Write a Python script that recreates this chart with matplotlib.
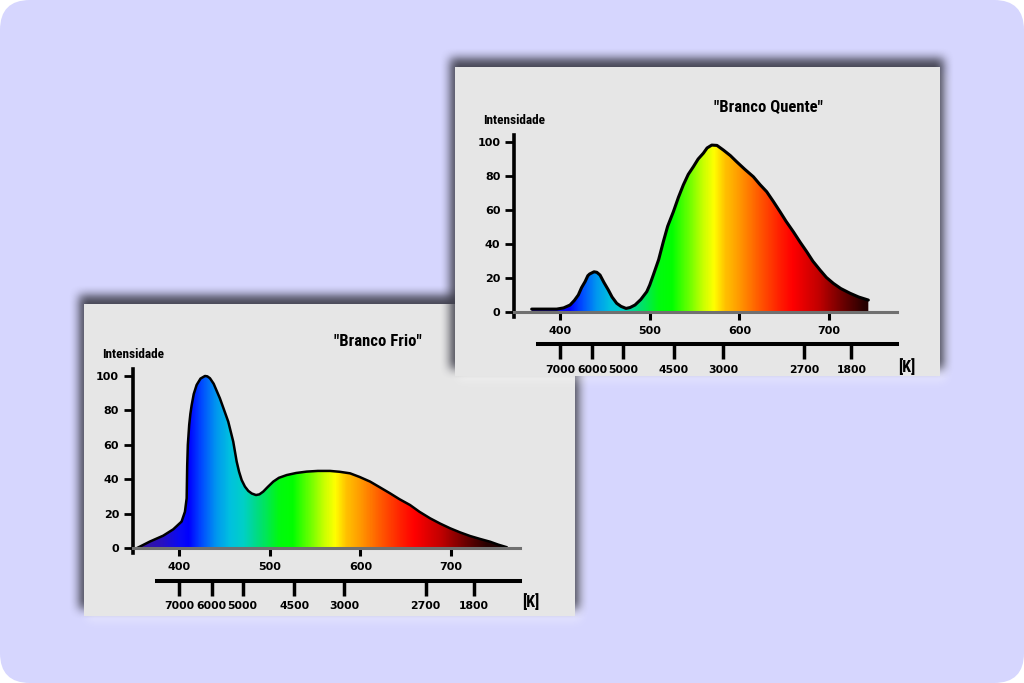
import numpy as np
import matplotlib
matplotlib.use("Agg")
import matplotlib.pyplot as plt
from matplotlib.colors import LinearSegmentedColormap, Normalize
from matplotlib.patches import FancyBboxPatch, Rectangle

W, H = 1024, 683

# spectrum (wavelength nm, relative intensity)
frio_wl = [353, 367.6, 382.3, 393.4, 402.6, 406.3, 408.2, 408.8, 409.5, 411, 412.3, 413.7,
           416, 419.2, 423.5, 428.4, 431, 433.9, 438, 444.9, 449, 454.1, 459.6, 463.4,
           466, 468.9, 472.5, 476.2, 480, 484.7, 488.5, 492.7, 497.5, 503.8, 510, 518.6,
           529, 540.7, 553, 566.4, 577, 588.5, 599, 610.6, 621, 632.6, 643, 654.7,
           665, 676.8, 688, 698.9, 710, 721, 732, 743, 752, 761.5]
frio_int = [0, 3.9, 7.3, 11, 15.5, 21.2, 29, 48, 60, 71.6, 78, 83,
            89.5, 94.8, 98.5, 100, 99.8, 98.7, 95.5, 87, 81, 73.5, 61.9, 50.3,
            44.5, 39.6, 35.8, 33.3, 31.8, 30.9, 31.3, 32.9, 35.5, 38.7, 40.9, 42.5,
            43.7, 44.5, 44.9, 44.9, 44.4, 43.5, 41.4, 38.7, 35.5, 31.9, 28.5, 25.1,
            21.2, 17.4, 14.3, 11.6, 9.2, 7.1, 5.4, 3.8, 2.1, 0.6]

quente_wl = [368.4, 396.3, 404, 411.2, 416, 420.4, 424, 427.9, 431, 433, 437.9, 441,
             444.6, 449, 453.9, 458, 463.2, 468, 473.6, 478, 483.6, 490, 496.7, 500,
             504, 510, 515.2, 520, 526.4, 532, 537.5, 543, 548.7, 554, 559.8, 564,
             569.2, 575, 582.1, 590, 597, 606, 615.6, 623, 630.5, 638, 645.3, 652,
             660.2, 668, 675.1, 682, 690, 697, 704.8, 713, 723.4, 733, 743.8]
quente_int = [1.9, 1.9, 2.6, 4.3, 7, 10.2, 14.5, 18, 21.5, 22.5, 23.8, 23.5,
              21.9, 17.5, 13.1, 9, 5.3, 3.5, 2.3, 2.8, 4.3, 7.5, 12.1, 16,
              21.9, 31, 41.5, 50.5, 59.1, 67.5, 74.8, 81, 85.5, 90, 93.4, 96.5,
              98.2, 98.0, 95.3, 92, 88.4, 84, 79.6, 75, 70.8, 65, 59.1, 53.5,
              47.3, 41, 35.6, 30, 24.8, 20.5, 17, 14, 11.2, 9, 7.2]

x_ticks = [400, 500, 600, 700]
y_ticks = [0, 20, 40, 60, 80, 100]
k_pos = [400, 436, 470, 527, 582, 672, 725]
k_labels = ["7000", "6000", "5000", "4500", "3000", "2700", "1800"]

# colour of the light along the wavelength axis
spec_stops = [(350, "#3a1890"), (380, "#2810c0"), (400, "#0a0af5"), (410, "#0000ff"),
              (425, "#0050ff"), (440, "#0095f0"), (455, "#00c0e0"), (470, "#00cfc8"),
              (490, "#00e070"), (510, "#00fa10"), (525, "#00ff00"), (545, "#70ff00"),
              (560, "#c8ff00"), (572, "#ffff00"), (585, "#ffc000"), (600, "#ff9a00"),
              (620, "#ff6000"), (645, "#ff2000"), (660, "#ff0000"), (690, "#c00000"),
              (715, "#700000"), (740, "#280000"), (770, "#100000")]
lo, hi = spec_stops[0][0], spec_stops[-1][0]
spec = LinearSegmentedColormap.from_list(
    "spec", [((w - lo) / (hi - lo), c) for w, c in spec_stops])

narrow = ["Roboto Condensed", "Liberation Sans Narrow", "DejaVu Sans"]

fig = plt.figure(figsize=(W / 100, H / 100), dpi=100)
fig.patch.set_facecolor("white")


def layer():
    lay = fig.add_axes([0, 0, 1, 1])
    lay.axis("off")
    return lay


def box(a, r, axis):
    pad = [(0, 0), (0, 0)]
    pad[axis] = (r + 1, r)
    c = np.cumsum(np.pad(a, pad), axis=axis)
    n = a.shape[axis]
    return (np.take(c, np.arange(2 * r + 1, n + 2 * r + 1), axis=axis)
            - np.take(c, np.arange(0, n), axis=axis)) / (2 * r + 1)


def soft_rect(x0, y0, x1, y1, r):
    m = np.zeros((H, W))
    m[int(y0):int(y1), int(x0):int(x1)] = 1
    for _ in range(2):
        m = box(box(m, r, 0), r, 1)
    return m


def panel(lay, x0, y0, x1, y1):
    glow = np.ones((H, W, 4))
    glow[..., 3] = soft_rect(x0 + 4, y0 + 8, x1 + 6, y1 + 6, 5) * 0.35
    lay.imshow(glow, extent=[0, W, H, 0], aspect="auto", interpolation="bilinear", zorder=2)
    dark = np.zeros((H, W, 4))
    dark[..., :3] = (0.22, 0.22, 0.27)
    dark[..., 3] = soft_rect(x0 - 4, y0 - 8, x1 + 4, y1 - 6, 5) * 0.9
    lay.imshow(dark, extent=[0, W, H, 0], aspect="auto", interpolation="bilinear", zorder=3)
    lay.add_patch(Rectangle((x0, y0), x1 - x0, y1 - y0, fc="#e6e6e6", ec="none", zorder=4))
    lay.set_xlim(0, W)
    lay.set_ylim(H, 0)


def ftext(ax, x, y, s, **kw):
    ax.text(x / W, 1 - y / H, s, transform=fig.transFigure, **kw)


def chart(px, wl, inten, lw):
    x0, y0, x1, y1 = px
    ax = fig.add_axes([x0 / W, 1 - y1 / H, (x1 - x0) / W, (y1 - y0) / H])
    ax.patch.set_alpha(0)
    poly = ax.fill_between(wl, inten, 0, color="none", lw=0)
    grad = np.linspace(349, 776, 800)[None, :]
    im = ax.imshow(grad, extent=[349, 776, 0, 104], aspect="auto", origin="lower",
                   cmap=spec, norm=Normalize(lo, hi), zorder=1)
    im.set_clip_path(poly.get_paths()[0], transform=ax.transData)
    ax.plot(wl, inten, color="black", lw=lw, zorder=2,
            solid_capstyle="round", solid_joinstyle="round")
    ax.set_xlim(349, 776)
    ax.set_ylim(-2.8, 104)

    for s in ["top", "right"]:
        ax.spines[s].set_visible(False)
    ax.spines["left"].set_linewidth(2.6)
    ax.spines["left"].set_color("black")
    ax.spines["bottom"].set_position(("data", 0))
    ax.spines["bottom"].set_linewidth(2.2)
    ax.spines["bottom"].set_color("#707070")
    ax.spines["bottom"].set_zorder(3)

    ax.set_yticks(y_ticks, labels=[str(v) for v in y_ticks], fontweight="bold")
    ax.set_xticks(x_ticks, labels=[str(v) for v in x_ticks], fontweight="bold")
    ax.tick_params(axis="y", direction="out", length=6.5, width=2, pad=3.5,
                   labelsize=8, colors="black")
    ax.tick_params(axis="x", direction="out", length=5.5, width=2.2, pad=4.5,
                   labelsize=8, colors="black")

    sec = ax.secondary_xaxis(-0.15)
    sec.set_xticks(k_pos, labels=k_labels, fontweight="bold")
    sec.spines["bottom"].set_linewidth(2.9)
    sec.spines["bottom"].set_bounds(375.6, 776)
    sec.tick_params(direction="out", length=10.5, width=2.5, pad=4,
                    labelsize=7.8, colors="black")
    return ax


bg = layer()
bg.add_patch(FancyBboxPatch((0, 0), W, H, boxstyle="round,pad=0,rounding_size=30",
                            fc="#d6d6fe", ec="none", zorder=0))
panel(bg, 83.5, 303.5, 575, 615.5)

ax1 = chart((133, 369.1, 520, 553.1), frio_wl, frio_int, 1.8)
ftext(ax1, 102, 354, "Intensidade", ha="left", va="center", fontsize=9.5,
      fontweight="bold", family=narrow)
ftext(ax1, 378, 342, '"Branco Frio"', ha="center", va="center", fontsize=12,
      fontweight="bold", family=narrow)
ftext(ax1, 522, 602, "[K]", ha="left", va="center", fontsize=11.5,
      fontweight="bold", family=narrow)

top = layer()
panel(top, 454.5, 66.7, 940, 375.5)

ax2 = chart((514.3, 135.2, 897.2, 317.1), quente_wl, quente_int, 2.2)
ftext(ax2, 483, 120, "Intensidade", ha="left", va="center", fontsize=9.5,
      fontweight="bold", family=narrow)
ftext(ax2, 768, 108, '"Branco Quente"', ha="center", va="center", fontsize=12,
      fontweight="bold", family=narrow)
ftext(ax2, 898, 367, "[K]", ha="left", va="center", fontsize=11.5,
      fontweight="bold", family=narrow)

fig.savefig("out.png", dpi=100, facecolor=fig.get_facecolor())
